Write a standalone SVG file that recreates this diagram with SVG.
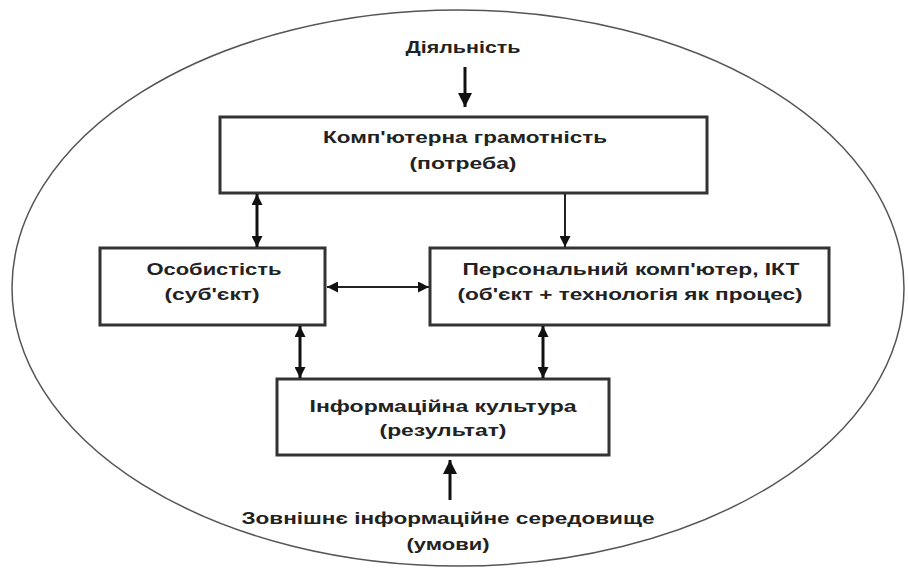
<svg xmlns="http://www.w3.org/2000/svg" width="908" height="569" viewBox="0 0 908 569">
<style>
.box{fill:#fff;stroke:#333;stroke-width:3}
.t{font-family:"Liberation Sans",Arial,sans-serif;font-weight:bold;font-size:17px;fill:#222;text-anchor:middle}
.thick{stroke:#111;stroke-width:3;fill:none}
.thin{stroke:#222;stroke-width:2;fill:none}
</style>
<defs>
<marker id="ah" viewBox="0 0 10 10" refX="10" refY="5" markerWidth="11" markerHeight="11" markerUnits="userSpaceOnUse" orient="auto-start-reverse">
<path d="M0,0 L10,5 L0,10 Z" fill="#111"/>
</marker>
<marker id="ahb" viewBox="0 0 10 10" refX="10" refY="5" markerWidth="14" markerHeight="14" markerUnits="userSpaceOnUse" orient="auto-start-reverse">
<path d="M0,0 L10,5 L0,10 Z" fill="#111"/>
</marker>
</defs>
<rect width="908" height="569" fill="#fff"/>
<ellipse cx="458" cy="288" rx="446" ry="278" fill="none" stroke="#555" stroke-width="1.5"/>
<g id="activity"><text class="t" x="463" y="53" textLength="115" lengthAdjust="spacingAndGlyphs">Діяльність</text></g>
<g id="need">
<rect class="box" x="220" y="117" width="487" height="76"/>
<text class="t" x="465" y="143" textLength="284" lengthAdjust="spacingAndGlyphs">Комп'ютерна грамотність</text>
<text class="t" x="463" y="169" textLength="107" lengthAdjust="spacingAndGlyphs">(потреба)</text>
</g>
<g id="person">
<rect class="box" x="100" y="248" width="225" height="77"/>
<text class="t" x="214" y="275" textLength="135" lengthAdjust="spacingAndGlyphs">Особистість</text>
<text class="t" x="212" y="300" textLength="95" lengthAdjust="spacingAndGlyphs">(суб'єкт)</text>
</g>
<g id="pc">
<rect class="box" x="430" y="248" width="399" height="77"/>
<text class="t" x="631" y="275" textLength="337" lengthAdjust="spacingAndGlyphs">Персональний комп'ютер, ІКТ</text>
<text class="t" x="630" y="300" textLength="345" lengthAdjust="spacingAndGlyphs">(об'єкт + технологія як процес)</text>
</g>
<g id="culture">
<rect class="box" x="277" y="379" width="332" height="76"/>
<text class="t" x="443" y="412" textLength="267" lengthAdjust="spacingAndGlyphs">Інформаційна культура</text>
<text class="t" x="443" y="436" textLength="127" lengthAdjust="spacingAndGlyphs">(результат)</text>
</g>
<g id="environment">
<text class="t" x="448" y="524" textLength="413" lengthAdjust="spacingAndGlyphs">Зовнішнє інформаційне середовище</text>
<text class="t" x="448" y="550" textLength="83" lengthAdjust="spacingAndGlyphs">(умови)</text>
</g>
<g id="connectors">
<line class="thick" x1="465" y1="67" x2="465" y2="107" stroke-width="4" marker-end="url(#ahb)"/>
<line class="thick" x1="450" y1="500" x2="450" y2="460" stroke-width="4" marker-end="url(#ahb)"/>
<line class="thick" x1="257" y1="194" x2="257" y2="247" marker-start="url(#ah)" marker-end="url(#ah)"/>
<line class="thin" x1="565" y1="194" x2="565" y2="247" marker-end="url(#ah)"/>
<line class="thin" x1="327" y1="287" x2="429" y2="287" marker-start="url(#ah)" marker-end="url(#ah)"/>
<line class="thick" x1="300" y1="326" x2="300" y2="378" marker-start="url(#ah)" marker-end="url(#ah)"/>
<line class="thick" x1="543" y1="326" x2="543" y2="378" marker-start="url(#ah)" marker-end="url(#ah)"/>
</g>
</svg>
